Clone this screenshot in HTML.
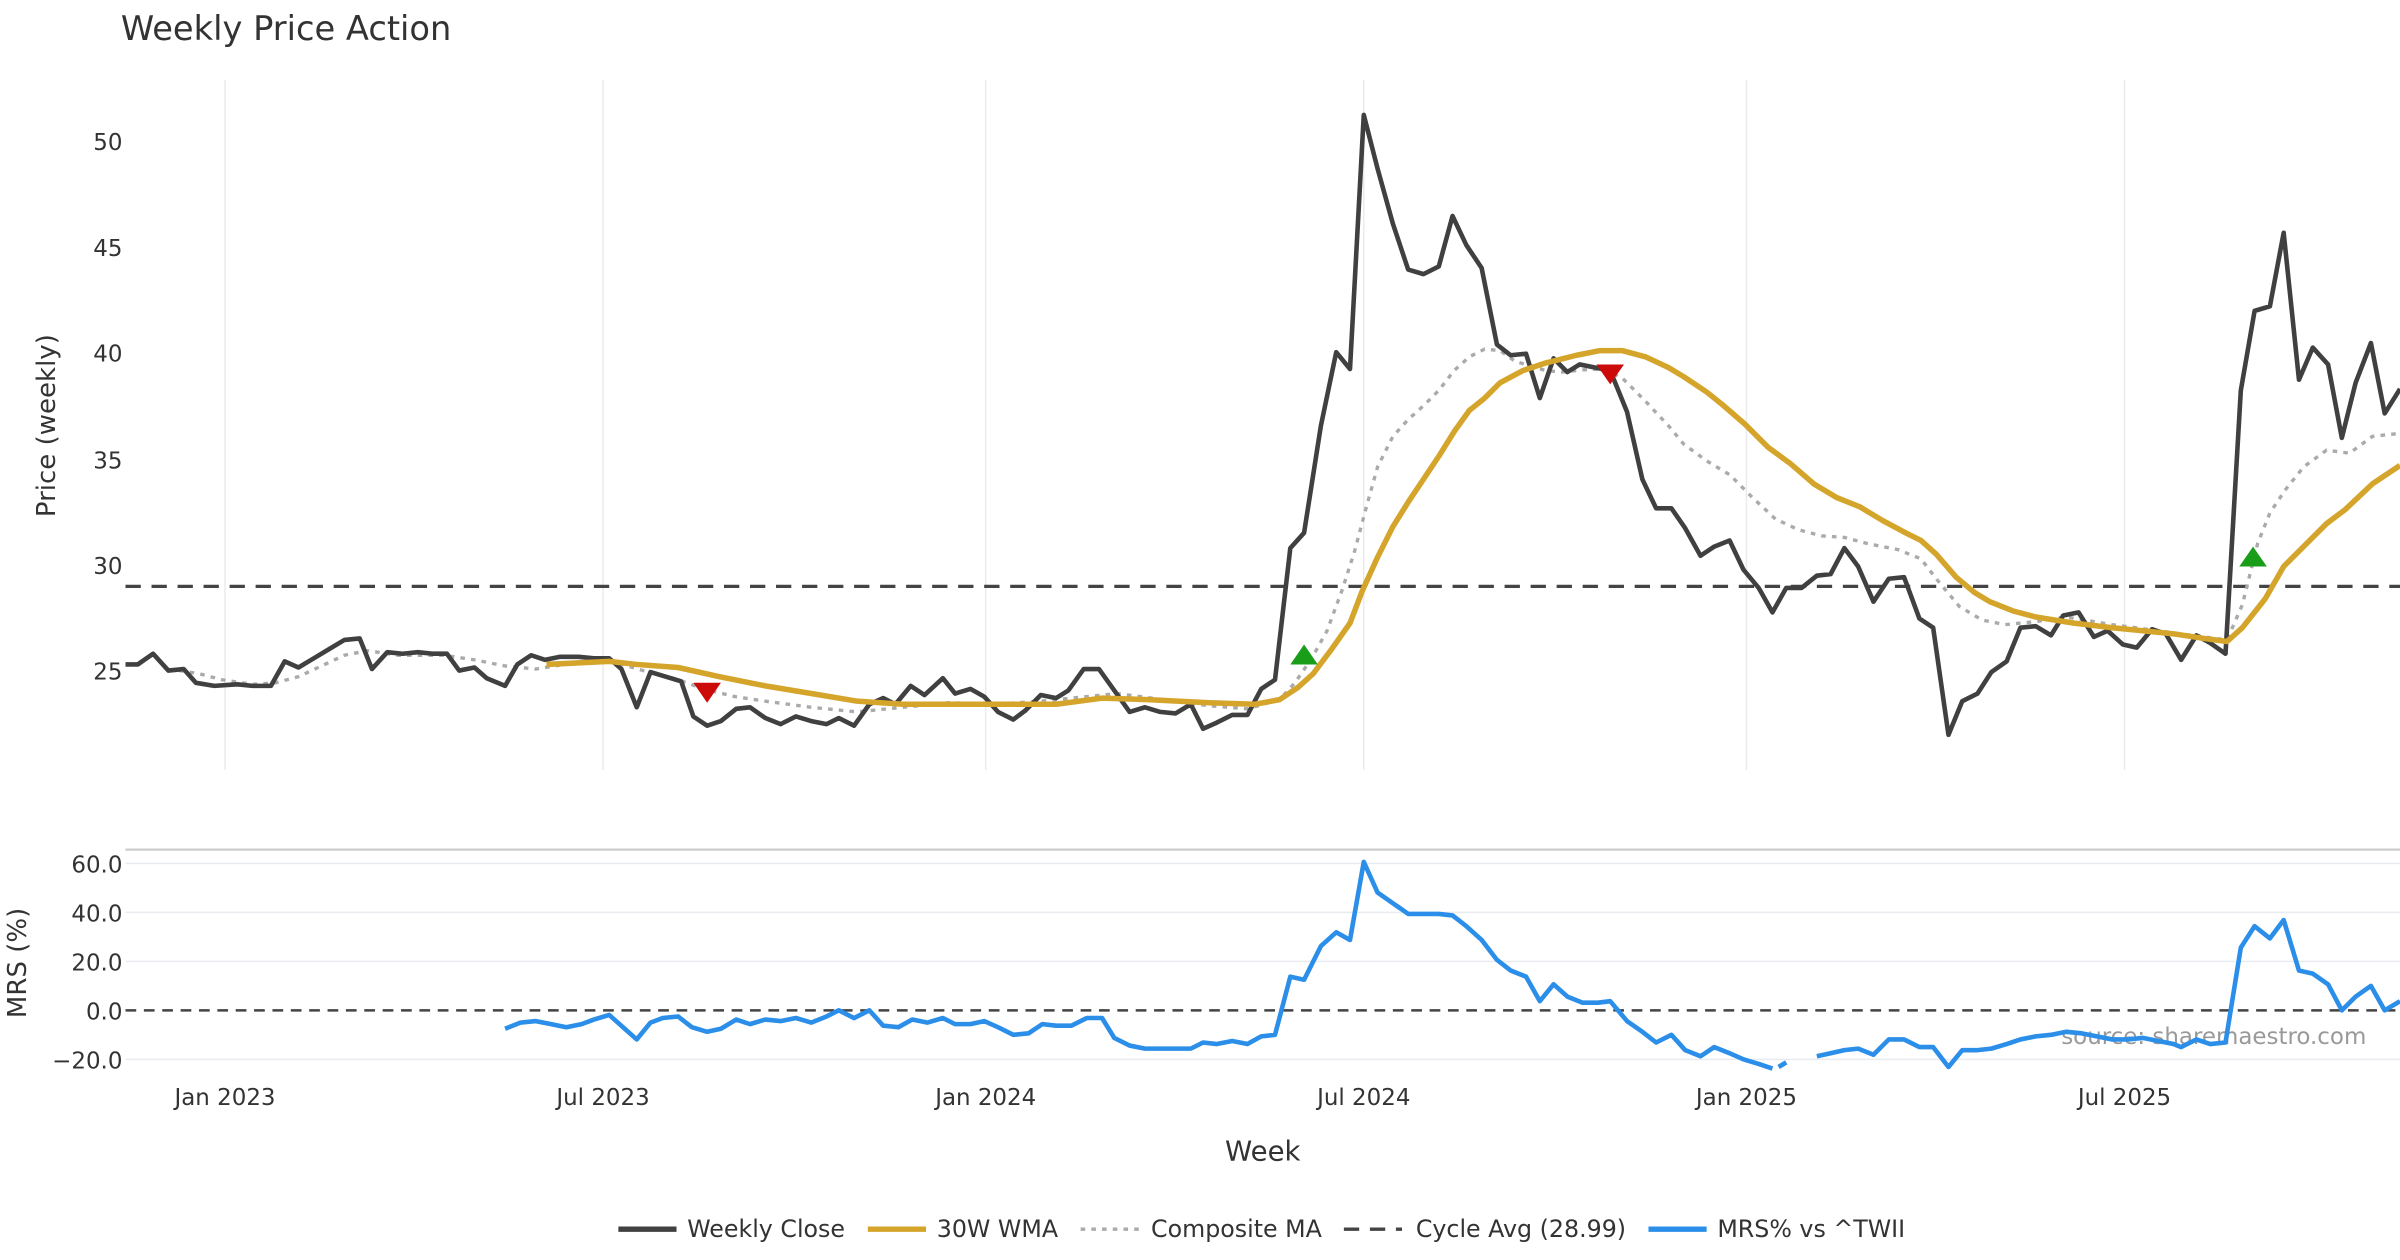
<!DOCTYPE html>
<html><head><meta charset="utf-8"><style>
html,body{margin:0;padding:0;background:#fff;}
svg{display:block;}
text{font-family:"DejaVu Sans","Liberation Sans",sans-serif;fill:#333;}
</style></head><body>
<svg width="2400" height="1260" viewBox="0 0 1568 823" xmlns="http://www.w3.org/2000/svg">
<rect width="1568" height="823" fill="#fff"/>
<text x="79" y="26" font-size="22">Weekly Price Action</text>
<g stroke="#e8ecf0" stroke-width="1">
<line x1="147" y1="52" x2="147" y2="503"/><line x1="394" y1="52" x2="394" y2="503"/>
<line x1="644" y1="52" x2="644" y2="503"/><line x1="891" y1="52" x2="891" y2="503"/>
<line x1="1141" y1="52" x2="1141" y2="503"/><line x1="1388" y1="52" x2="1388" y2="503"/>
</g>
<g font-size="15" text-anchor="end">
<text x="80" y="98">50</text><text x="80" y="167">45</text><text x="80" y="236">40</text>
<text x="80" y="306">35</text><text x="80" y="375">30</text><text x="80" y="444">25</text>
</g>
<text transform="translate(36,278) rotate(-90)" font-size="17" text-anchor="middle">Price (weekly)</text>
<line x1="82" y1="383" x2="1568" y2="383" stroke="#444" stroke-width="2.2" stroke-dasharray="10,7"/>
<polyline fill="none" stroke="#aaa" stroke-width="2.2" stroke-dasharray="3,4" points="117,438 130,440 145,444 165,447 180,446 195,442 210,435 225,428 240,425 260,428 290,428 310,431 330,435 350,437 375,433 400,432 420,438 440,443 460,450 480,455 500,458 530,462 560,465 590,462 620,459 650,460 680,458 710,455 730,453 760,457 790,461 815,463 836,457 846,446 857,430 867,412 877,385 885,360 893,330 900,305 910,285 920,274 930,265 940,255 950,242 960,233 970,228 980,229 990,236 1000,239 1010,242 1020,243 1040,241 1050,242 1060,247 1075,262 1090,278 1100,290 1115,301 1130,310 1145,325 1160,339 1175,346 1190,350 1205,351 1220,355 1240,359 1255,365 1265,378 1280,396 1295,405 1310,408 1330,406 1350,403 1380,408 1410,412 1440,416 1455,418 1465,395 1475,355 1483,335 1493,320 1505,305 1520,294 1535,296 1550,285 1568,283"/>
<polyline fill="none" stroke="#404040" stroke-width="3" stroke-linejoin="round" points="82,434 90,434 100,427 110,438 120,437 128,446 140,448 155,447 165,448 177,448 186,432 195,436 205,430 215,424 225,418 235,417 243,437 253,426 263,427 273,426 283,427 292,427 300,438 310,436 318,443 330,448 338,434 347,428 356,431 366,429 378,429 388,430 398,430 406,437 416,462 425,439 435,442 445,445 453,468 462,474 471,471 481,463 490,462 500,469 510,473 520,468 530,471 540,473 548,469 558,474 568,460 577,456 585,460 595,448 604,454 616,443 624,453 634,450 643,455 652,465 662,470 670,464 680,454 690,456 698,451 708,437 718,437 728,451 738,465 748,462 758,465 768,466 778,460 786,476 795,472 805,467 815,467 824,450 833,444 843,358 852,348 863,278 873,230 882,241 891,75 900,110 910,146 920,176 930,179 940,174 949,141 958,160 968,175 978,225 987,232 997,231 1006,260 1015,234 1024,243 1032,238 1042,240 1052,242 1063,269 1073,313 1082,332 1092,332 1101,345 1111,363 1120,357 1130,353 1139,372 1149,384 1158,400 1167,384 1177,384 1187,376 1196,375 1205,358 1214,370 1224,393 1234,378 1244,377 1254,404 1263,410 1273,480 1282,458 1292,453 1301,439 1311,432 1320,410 1330,409 1340,415 1348,402 1358,400 1368,416 1377,412 1387,421 1396,423 1406,411 1415,414 1425,431 1435,415 1444,420 1454,427 1464,255 1473,203 1483,200 1492,152 1502,248 1511,227 1521,238 1530,286 1539,250 1549,224 1558,270 1568,254"/>
<polyline fill="none" stroke="#d4a52a" stroke-width="3.6" stroke-linejoin="round" points="357,434 398,432 416,434 443,436 470,442 500,448 530,453 560,458 590,460 620,460 650,460 690,460 720,456 750,457 790,459 820,460 836,457 848,449 858,440 870,424 882,407 890,386 900,364 910,344 920,328 930,313 940,298 950,282 960,268 970,260 980,250 995,242 1010,237 1030,232 1045,229 1060,229 1075,233 1090,240 1100,246 1115,256 1125,264 1140,277 1155,292 1170,303 1185,316 1200,325 1215,331 1230,340 1245,348 1255,353 1265,362 1278,377 1290,387 1300,393 1315,399 1330,403 1355,407 1380,410 1400,412 1420,414 1440,417 1455,419 1465,410 1480,391 1492,370 1505,357 1520,342 1532,333 1550,316 1568,304"/>
<polygon points="453,446 471,446 462,459" fill="#cc0a0a"/>
<polygon points="1043,238 1061,238 1052,251" fill="#cc0a0a"/>
<polygon points="843,434 861,434 852,421" fill="#1a9e1a"/>
<polygon points="1463,370 1481,370 1472,357" fill="#1a9e1a"/>
<line x1="82" y1="555" x2="1568" y2="555" stroke="#ccc" stroke-width="1.5"/>
<g stroke="#e8ecf0" stroke-width="1">
<line x1="82" y1="564" x2="1568" y2="564"/><line x1="82" y1="596" x2="1568" y2="596"/>
<line x1="82" y1="628" x2="1568" y2="628"/><line x1="82" y1="692" x2="1568" y2="692"/>
</g>
<line x1="82" y1="660" x2="1568" y2="660" stroke="#444" stroke-width="1.6" stroke-dasharray="7,5"/>
<g font-size="15" text-anchor="end">
<text x="80" y="570">60.0</text><text x="80" y="602">40.0</text><text x="80" y="634">20.0</text>
<text x="80" y="666">0.0</text><text x="80" y="698">−20.0</text>
</g>
<text transform="translate(17,629) rotate(-90)" font-size="17" text-anchor="middle">MRS (%)</text>
<text x="1546" y="682" font-size="15" style="fill:#999" text-anchor="end">source: sharemaestro.com</text>
<g fill="none" stroke="#2b8ee8" stroke-width="3" stroke-linejoin="round">
<polyline points="330,672 340,668 350,667 360,669 370,671 380,669 388,666 398,663 407,671 416,679 425,668 433,665 443,664 452,671 462,674 471,672 481,666 490,669 500,666 510,667 520,665 530,668 540,664 548,660 558,665 568,660 577,670 587,671 596,666 606,668 616,665 624,669 634,669 643,667 652,671 662,676 672,675 681,669 690,670 700,670 710,665 720,665 728,678 738,683 748,685 758,685 768,685 778,685 786,681 795,682 805,680 815,682 824,677 833,676 843,638 852,640 863,618 873,609 882,614 891,563 900,583 910,590 920,597 930,597 940,597 949,598 958,605 968,614 978,627 987,634 997,638 1006,654 1015,643 1024,651 1034,655 1044,655 1052,654 1063,667 1073,674 1082,681 1092,676 1101,686 1111,690 1120,684 1130,688 1139,692 1149,695 1158,698"/>
<polyline points="1162,697 1167,694"/>
<polyline points="1187,690 1196,688 1205,686 1214,685 1224,689 1234,679 1244,679 1254,684 1263,684 1273,697 1282,686 1292,686 1301,685 1311,682 1320,679 1330,677 1340,676 1350,674 1360,675 1370,677 1380,679 1390,679 1400,678 1410,680 1420,682 1425,684 1435,679 1444,682 1454,681 1464,619 1473,605 1483,613 1492,601 1502,634 1511,636 1521,643 1530,660 1539,651 1549,644 1558,660 1568,654"/>
</g>
<g font-size="15" text-anchor="middle">
<text x="147" y="722">Jan 2023</text><text x="394" y="722">Jul 2023</text><text x="644" y="722">Jan 2024</text>
<text x="891" y="722">Jul 2024</text><text x="1141" y="722">Jan 2025</text><text x="1388" y="722">Jul 2025</text>
</g>
<text x="825" y="758" font-size="18" text-anchor="middle">Week</text>
<g font-size="15.5">
<line x1="404" y1="803" x2="442" y2="803" stroke="#404040" stroke-width="3.5"/><text x="449" y="808">Weekly Close</text>
<line x1="567" y1="803" x2="605" y2="803" stroke="#d4a52a" stroke-width="3.5"/><text x="612" y="808">30W WMA</text>
<line x1="706" y1="803" x2="744" y2="803" stroke="#aaa" stroke-width="2.2" stroke-dasharray="3,4"/><text x="752" y="808">Composite MA</text>
<line x1="878" y1="803" x2="916" y2="803" stroke="#444" stroke-width="2.2" stroke-dasharray="10,7"/><text x="925" y="808">Cycle Avg (28.99)</text>
<line x1="1077" y1="803" x2="1115" y2="803" stroke="#2b8ee8" stroke-width="3.5"/><text x="1122" y="808">MRS% vs ^TWII</text>
</g>
</svg>
</body></html>
